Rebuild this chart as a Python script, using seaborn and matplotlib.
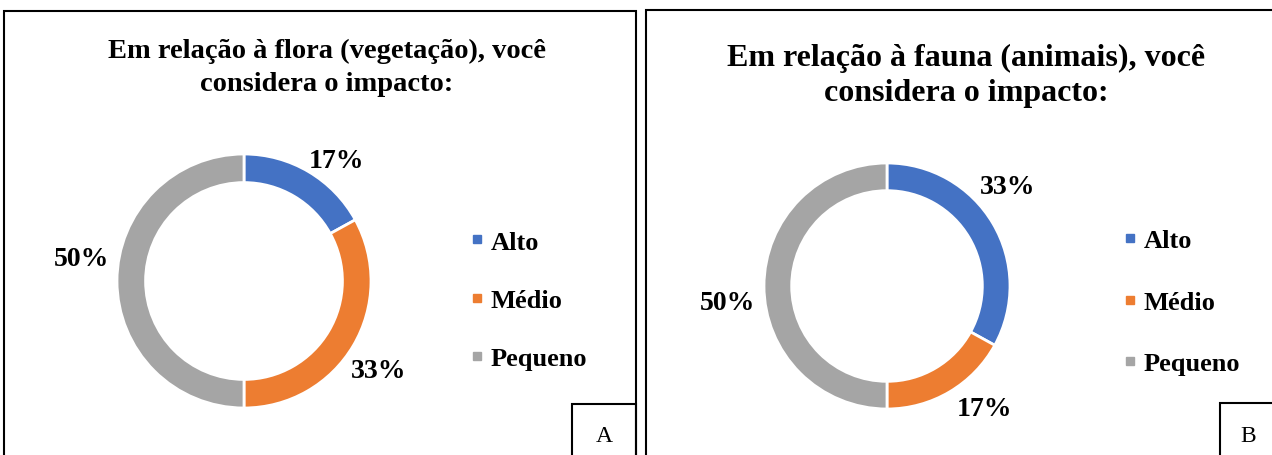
import matplotlib

matplotlib.use("Agg")
import matplotlib.pyplot as plt
import numpy as np
import seaborn as sns
from matplotlib.lines import Line2D
from matplotlib.patches import Rectangle

# data
categories = ["Alto", "Médio", "Pequeno"]
flora_pct = [17, 33, 50]
fauna_pct = [33, 17, 50]
flora_title = "Em relação à flora (vegetação), você\nconsidera o impacto:"
fauna_title = "Em relação à fauna (animais), você\nconsidera o impacto:"
panel_tags = ["A", "B"]

PALETTE = ["#4472C4", "#ED7D31", "#A5A5A5"]
W, H = 1272, 456

sns.set_theme(style="white")
plt.rcParams["font.family"] = ["Liberation Serif", "DejaVu Serif"]
plt.rcParams["text.color"] = "black"

fig = plt.figure(figsize=(W / 100, H / 100), dpi=100)
fig.patch.set_facecolor("white")


def fig_box(x0, y0, x1, y1, lw=1.5):
    # rectangle given in pixel coords (top-left origin)
    fig.add_artist(Rectangle((x0 / W, 1 - y1 / H), (x1 - x0) / W, (y1 - y0) / H,
                             transform=fig.transFigure, fill=False,
                             edgecolor="black", linewidth=lw))


def donut(values, cx, cy, r, label_dist, label_shift):
    span = 1.5
    ax = fig.add_axes([(cx - span * r) / W, (H - cy - span * r) / H,
                       2 * span * r / W, 2 * span * r / H])
    wedges, _ = ax.pie(values, colors=PALETTE, startangle=90, counterclock=False,
                       radius=1, wedgeprops=dict(width=0.225, edgecolor="white", linewidth=2))
    # data labels sit outside the ring, nudged like Excel's best-fit placement
    for w, v, d, s in zip(wedges, values, label_dist, label_shift):
        ang = np.deg2rad((w.theta1 + w.theta2) / 2 - s)
        ax.text(d * np.cos(ang), d * np.sin(ang), f"{v}%", ha="center", va="center",
                fontsize=20, fontweight="bold", color="black")
    ax.set_xlim(-span, span)
    ax.set_ylim(-span, span)
    ax.set_axis_off()
    return ax


def legend(x, y, spacing):
    handles = [Line2D([], [], marker="s", linestyle="none", markersize=6,
                      markerfacecolor=c, markeredgecolor=c) for c in PALETTE]
    leg = fig.legend(handles, categories, loc="center left", bbox_to_anchor=(x / W, 1 - y / H),
                     frameon=False, prop=dict(size=19, weight="bold"), handlelength=0.4,
                     handletextpad=0.3, borderpad=0, borderaxespad=0, labelspacing=spacing)
    for t in leg.get_texts():
        t.set_color("black")


# panel frames
fig_box(4, 12, 636, 470)
fig_box(646, 11, 1290, 470)
fig_box(572, 405, 636, 470)
fig_box(1220, 404, 1290, 470)

# left panel
fig.text(327 / W, 1 - 68 / H, flora_title, ha="center", va="center",
         fontsize=20.5, fontweight="bold", linespacing=1.4)
donut(flora_pct, 244, 282, 127, [1.2, 1.27, 1.29], [7, 3, 8])
legend(472, 301, 1.31)
fig.text(604 / W, 1 - 437 / H, panel_tags[0], ha="center", va="center", fontsize=17)

# right panel
fig.text(966 / W, 1 - 76 / H, fauna_title, ha="center", va="center",
         fontsize=23, fontweight="bold", linespacing=1.25)
donut(fauna_pct, 887, 287, 123, [1.27, 1.27, 1.3], [-9, -8, -6])
legend(1125, 303, 1.44)
fig.text(1248 / W, 1 - 437 / H, panel_tags[1], ha="center", va="center", fontsize=17)

fig.savefig("out.png", dpi=100)
plt.close(fig)
